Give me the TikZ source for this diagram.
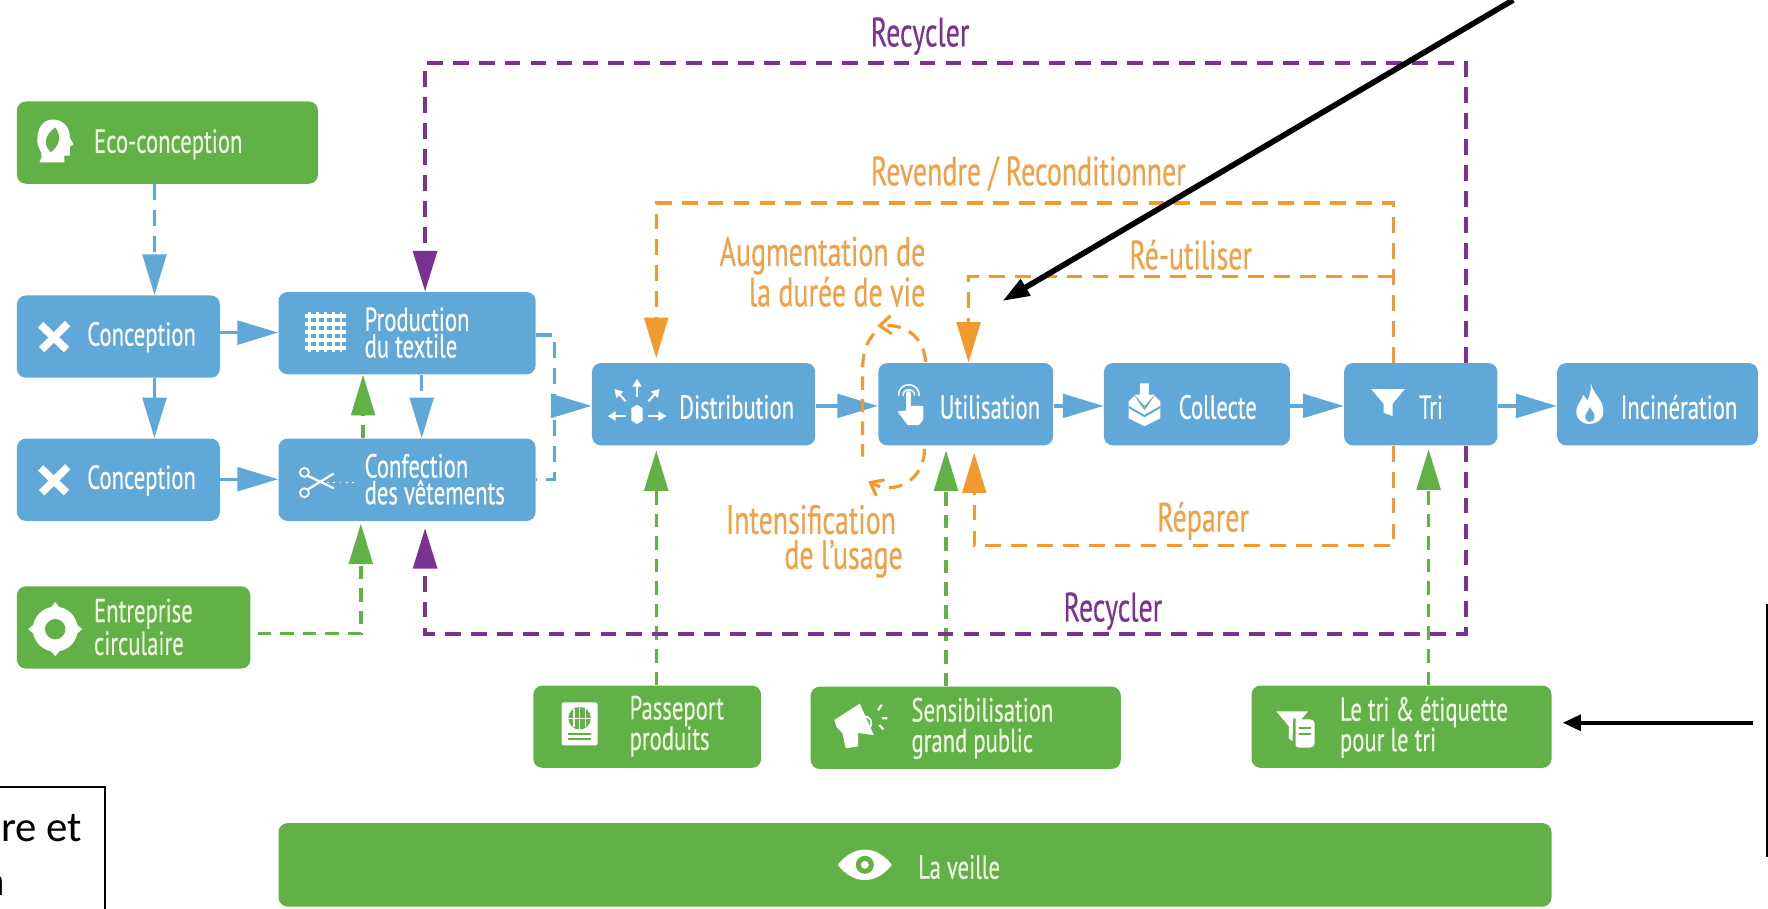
\documentclass[tikz,border=0pt]{standalone}
\usepackage{fontspec}
\setmainfont[FakeStretch=0.68,FakeBold=0.35]{PT Sans}
\newfontfamily\carl{Carlito}
\usetikzlibrary{arrows.meta,calc}
\definecolor{gr}{HTML}{62B146}
\definecolor{bl}{HTML}{5FA8D8}
\definecolor{or}{HTML}{F29A2E}
\definecolor{pu}{HTML}{7A3391}
\definecolor{gtc}{HTML}{EEF7E4}
\definecolor{ot}{HTML}{F0A046}
\tikzset{
 x=0.5pt,y=-0.5pt,
 gbox/.style={fill=gr,rounded corners=4pt,inner sep=0pt},
 bbox/.style={fill=bl,rounded corners=4pt,inner sep=0pt},
 wtx/.style={anchor=west,white,align=left,inner sep=0pt,font=\fontsize{14.8}{11.8}\selectfont},
 gtx/.style={anchor=west,gtc,align=left,inner sep=0pt,font=\fontsize{14.8}{13.5}\selectfont},
 lab/.style={inner sep=0pt,font=\fontsize{18.2}{15.5}\selectfont},
 dsh/.style={line width=1.5pt,dash pattern=on 7pt off 4.5pt},
 tipb/.style={-{Triangle[length=18pt,width=10.5pt]}},
 dbl/.style={dsh,bl,tipb},
 sbl/.style={line width=1.5pt,bl,tipb},
 dgr/.style={dsh,gr,tipb,dash pattern=on 6pt off 4pt},
 dor/.style={dsh,or},
 dpu/.style={dsh,pu,line width=1.8pt},
 blk/.style={black,line width=2.5pt,-{Triangle[length=12pt,width=8pt]}},
}
\newcommand{\bx}[6]{\node[#2,minimum width={(#5-#3)*0.5pt},minimum height={(#6-#4)*0.5pt}] (#1) at ({(#3+#5)/2},{(#4+#6)/2}) {};}
\begin{document}
\begin{tikzpicture}
\useasboundingbox (0,0) rectangle (1568,806.1);
% boxes
\bx{eco}{gbox}{15}{90}{282}{163}
\bx{con1}{bbox}{15}{262}{195}{335}
\bx{con2}{bbox}{15}{389}{195}{462}
\bx{ent}{gbox}{15}{520}{222}{593}
\bx{prod}{bbox}{247}{259}{475}{332}
\bx{conf}{bbox}{247}{389}{475}{462}
\bx{dist}{bbox}{525}{322}{723}{395}
\bx{util}{bbox}{779}{322}{934}{395}
\bx{coll}{bbox}{979}{322}{1144}{395}
\bx{tri}{bbox}{1192}{322}{1328}{395}
\bx{inc}{bbox}{1381}{322}{1559}{395}
\bx{pass}{gbox}{473}{608}{675}{681}
\bx{sens}{gbox}{719}{609}{994}{682}
\bx{etiq}{gbox}{1110}{608}{1376}{681}
\bx{veil}{gbox}{247}{730}{1376}{804}
% box texts
\node[gtx] (t1) at (83,128) {Eco-conception};
\node[wtx] (t2) at (77,299) {Conception};
\node[wtx] (t3) at (77,426) {Conception};
\node[gtx] (t4) at (83,556) {Entreprise\\[1pt]circulaire};
\node[wtx] (t5) at (323,295) {Production\\du textile};
\node[wtx] (t6) at (323,425) {Confection\\des vêtements};
\node[wtx] (t7) at (602,361) {Distribution};
\node[wtx] (t8) at (833,361) {Utilisation};
\node[wtx] (t9) at (1045,361) {Collecte};
\node[wtx] (t10) at (1258,361) {Tri};
\node[wtx] (t11) at (1437,361) {Incinération};
\node[gtx] (t12) at (558,644) {Passeport\\produits};
\node[gtx] (t13) at (808,646) {Sensibilisation\\grand public};
\node[gtx] (t14) at (1188,645) {Le tri \& étiquette\\pour le tri};
\node[gtx] (t15) at (814,769) {La veille};
% labels
\node[lab,pu] (l1) at (816,32) {Recycler};
\node[lab,ot] (l2) at (912,154) {Revendre / Reconditionner};
\node[lab,ot,align=right,anchor=east] (l3) at (821,241) {Augmentation de\\la durée de vie};
\node[lab,ot] (l4) at (1056,226) {Ré-utiliser};
\node[lab,ot,align=right,anchor=east] (l5) at (801,480) {Intensification\hspace*{3pt}\\de l’usage};
\node[lab,ot] (l6) at (1067,462) {Réparer};
\node[lab,pu] (l7) at (987,542) {Recycler};
% helper coordinates
\coordinate (xp) at (1300,0); \coordinate (xo) at (1236,0);
\coordinate (xa) at (377,0);  \coordinate (xd) at (582,0);
\coordinate (xu) at (859,0);  \coordinate (xr) at (864,0);
\coordinate (xs) at (839,0);  \coordinate (xe) at (1267,0);
\coordinate (xg) at (320,0);  \coordinate (xb) at (374,0);
\coordinate (xc) at (137,0);  \coordinate (xm) at (492,0);
\coordinate (xh) at (322,0);
\coordinate (yt) at (0,56);   \coordinate (yb) at (0,562);
\coordinate (yrv) at (0,180); \coordinate (yru) at (0,245);
\coordinate (yrp) at (0,484); \coordinate (ymid) at (0,360);
\coordinate (y1) at (0,295);  \coordinate (y2) at (0,425);
\coordinate (y3) at (0,297);
% blue connectors
\draw[dbl] (xc |- eco.south) -- (xc |- con1.north);
\draw[sbl] (xc |- con1.south) -- (xc |- con2.north);
\draw[sbl] (con1.east |- y1) -- (prod.west |- y1);
\draw[sbl] (con2.east |- y2) -- (conf.west |- y2);
\draw[dbl] (xb |- prod.south) -- (xb |- conf.north);
\draw[bl,dsh] (prod.east |- y3) -- (xm |- y3) -- (xm |- y2) -- (conf.east |- y2);
\draw[sbl] (xm |- ymid) -- (dist.west |- ymid);
\draw[sbl] (dist.east |- ymid) -- (util.west |- ymid);
\draw[sbl] (util.east |- ymid) -- (coll.west |- ymid);
\draw[sbl] (coll.east |- ymid) -- (tri.west |- ymid);
\draw[sbl] (tri.east |- ymid) -- (inc.west |- ymid);
% green connectors
\draw[dgr] (xh |- conf.north) -- (xh |- prod.south);
\draw[dgr,shorten >=1pt] (ent.east |- yb) ++(6,0) -- (xg |- yb) -- (xg |- conf.south);
\draw[dgr,shorten >=2pt] (xd |- pass.north) -- (xd |- dist.south);
\draw[dgr,shorten >=2pt] (xs |- sens.north) -- (xs |- util.south);
\draw[dgr,shorten >=1.5pt] (xe |- etiq.north) -- (xe |- tri.south);
% purple connectors
\draw[dpu,tipb] (xp |- tri.north) -- (xp |- yt) -- (xa |- yt) -- (xa |- prod.north);
\draw[dpu,tipb,shorten >=3pt] (xp |- tri.south) -- (xp |- yb) -- (xa |- yb) -- (xa |- conf.south);
% orange connectors
\draw[dor,tipb,shorten >=2pt] (xo |- tri.north) -- (xo |- yrv) -- (xd |- yrv) -- (xd |- dist.north);
\draw[dor,tipb] (xo |- yru) -- (xu |- yru) -- (xu |- util.north);
\draw[dor,tipb,shorten >=3pt] (xo |- tri.south) -- (xo |- yrp) -- (xr |- yrp) -- (xr |- util.south);
% loop
\draw[or,line width=1.4pt,dash pattern=on 6pt off 4pt,-{Straight Barb[length=5pt,width=8pt]}]
  (821,321) .. controls (819,300) and (805,287) .. (778,289);
\draw[or,line width=1.4pt,dash pattern=on 6pt off 4pt] (775,296) .. controls (768,305) and (765,312) .. (765,330) -- (765,405);
\draw[or,line width=1.4pt,dash pattern=on 6pt off 4pt,-{Straight Barb[length=5pt,width=8pt]}]
  (820,398) .. controls (820,425) and (795,440) .. (770,427);
% black arrows
\coordinate (b1s) at (1342,0); \coordinate (b1e) at (889,267);
\coordinate (b2s) at (1555,641); \coordinate (b2e) at (1386,641);
\draw[blk] (b1s) -- (b1e);
\draw[black,line width=1.6pt,-{Triangle[length=8pt,width=7pt]}] (b2s) -- (b2e);
% frames
\draw[black,line width=0.6pt] (0,698) -- (93,698) -- (93,806.1);
\draw[black,line width=0.6pt] (1567,536) -- (1567,760);
\node[anchor=east,inner sep=0pt,font=\carl\fontsize{19}{19}\selectfont] (f1) at (73,734) {re et};
\node[anchor=east,inner sep=0pt,font=\carl\fontsize{19}{19}\selectfont] (f2) at (5,785) {n};
% icons
\begin{scope}[shift={(49,125)}]
 \fill[white] (-14,19) -- (8,19) -- (8,13) -- (13,13) -- (13,5) -- (16,3) -- (13,-3) .. controls (13,-14) and (5,-19) .. (-2,-19) .. controls (-12,-19) and (-16,-10) .. (-16,0) .. controls (-16,6) and (-12,8) .. (-12,14) -- cycle;
 \fill[gr] (-4,10) .. controls (-12,2) and (-8,-6) .. (0,-12) .. controls (6,-4) and (4,4) .. (-4,10);
\end{scope}
\foreach \yy in {298,425}{
\begin{scope}[shift={(48,\yy)}]
 \draw[white,line width=3.4pt] (-12,-10) -- (11,12);
 \draw[white,line width=3.4pt] (-11,12) -- (12,-11);
\end{scope}}
\begin{scope}[shift={(288.5,294.5)}]
 \foreach \k in {-14,-7,0,7,14}{
  \draw[white,line width=1.7pt] (-18,\k) -- (18,\k);
  \draw[white,line width=1.2pt] (\k,-18) -- (\k,18);}
\end{scope}
\begin{scope}[shift={(270,428)}]
 \draw[white,line width=0.8pt] (0,-9) circle[radius=4];
 \draw[white,line width=0.8pt] (0,9) circle[radius=4];
 \draw[white,line width=1pt] (3,-6) -- (26,5);
 \draw[white,line width=1pt] (3,6) -- (26,-8);
 \draw[white,line width=0.8pt,dotted] (20,0) -- (46,0);
\end{scope}
\begin{scope}[shift={(565,360)},>={Triangle[length=3.5pt,width=4pt]},white,line width=0.9pt]
 \fill[white] (-5,2) -- (0,-1) -- (5,2) -- (5,13) -- (0,16) -- (-5,13) -- cycle;
 \draw[->] (0,-8) -- (0,-24);
 \draw[->] (-10,-4) -- (-20,-15);
 \draw[->] (10,-4) -- (20,-15);
 \draw[->] (-10,9) -- (-26,9);
 \draw[->] (10,9) -- (26,9);
\end{scope}
\begin{scope}[shift={(806,358)}]
 \draw[white,line width=2.2pt,line cap=round] (0,-9) -- (0,8);
 \fill[white] (-2,2) -- (13,2) -- (13,14) -- (9,19) -- (-1,19) -- (-10,7) -- (-2,6) -- cycle;
 \draw[white,line width=0.7pt] (-5,-7) .. controls (-6,-14) and (6,-14) .. (5,-7);
 \draw[white,line width=0.7pt] (-9,-7) .. controls (-10,-20) and (10,-20) .. (9,-7);
\end{scope}
\begin{scope}[shift={(1015,359)}]
 \fill[white] (-4,-19) -- (4,-19) -- (4,-9) -- (9,-9) -- (0,1) -- (-9,-9) -- (-4,-9) -- cycle;
 \fill[white] (-14,-3) -- (-9,-8) -- (0,5) -- (9,-8) -- (14,-3) -- (14,12) -- (0,19) -- (-14,12) -- cycle;
 \fill[bl] (-14,1) -- (0,9) -- (14,1) -- (14,3) -- (0,11) -- (-14,3) -- cycle;
\end{scope}
\begin{scope}[shift={(1231,357)}]
 \fill[white] (-15,-12) -- (15,-12) -- (4,1) -- (4,12) -- (-4,9) -- (-4,1) -- cycle;
\end{scope}
\begin{scope}[shift={(1410,358)}]
 \fill[white] (1,-18) .. controls (3,-8) and (12,-4) .. (12,7) .. controls (12,14) and (6,18) .. (0,18) .. controls (-7,18) and (-12,14) .. (-12,7) .. controls (-12,0) and (-7,-2) .. (-6,-8) .. controls (-4,-5) and (-3,-4) .. (-2,-3) .. controls (0,-8) and (1,-12) .. (1,-18) -- cycle;
 \fill[bl] (0,3) .. controls (2,7) and (5,9) .. (4,13) .. controls (3,17) and (-3,17) .. (-4,13) .. controls (-5,9) and (-1,7) .. (0,3) -- cycle;
\end{scope}
\begin{scope}[shift={(49,558)}]
 \draw[white,line width=5.4pt] (0,0) circle[radius=14.5];
 \fill[white] (-5,-18) -- (0,-24) -- (5,-18) -- cycle;
 \fill[white] (-5,18) -- (0,24) -- (5,18) -- cycle;
 \fill[white] (-18,-5) -- (-24,0) -- (-18,5) -- cycle;
 \fill[white] (18,-5) -- (24,0) -- (18,5) -- cycle;
\end{scope}
\begin{scope}[shift={(514,642)}]
 \fill[white,rounded corners=1pt] (-16,-19) rectangle (16,19);
 \fill[gr] (0,-5) circle[radius=10];
 \draw[white,line width=0.6pt] (-10,-5) -- (10,-5) (0,-15) -- (0,5) (-5,-13) -- (-5,3) (5,-13) -- (5,3);
 \draw[gr,line width=0.9pt] (-10,9) -- (10,9) (-10,13) -- (10,13);
\end{scope}
\begin{scope}[shift={(760,644)}]
 \fill[white] (-20,-5.5) -- (2.6,-20) -- (15,8) -- (1,6) -- (1,18) -- (-10,19.6) -- (-13,6) -- (-18,1) -- cycle;
 \draw[white,line width=0.8pt] (6,-8) .. controls (12,-10) and (15,-2) .. (11,2);
 \draw[white,line width=0.9pt] (18.6,-14) -- (22,-19) (22,-7) -- (27,-7) (20,-1) -- (23.5,3);
\end{scope}
\begin{scope}[shift={(1149,647)}]
 \fill[white] (-17,-16) -- (11,-16) -- (0,-3) -- (0,12) -- (-6,8) -- (-6,-3) -- cycle;
 \fill[white,rounded corners=2pt] (-1,-9) rectangle (17,16);
 \fill[gr] (-2,-10) -- (0,-10) -- (0,18) -- (-3,18) -- cycle;
 \draw[gr,line width=0.9pt] (3,-1) -- (14,-1) (3,4) -- (14,4);
\end{scope}
\begin{scope}[shift={(767,767)}]
 \fill[white] (-24,0) .. controls (-10,-18) and (10,-18) .. (24,0) .. controls (10,18) and (-10,18) .. (-24,0) -- cycle;
 \fill[gr] (0,0) circle[radius=8];
 \fill[white] (0,0) circle[radius=3.5];
\end{scope}
\end{tikzpicture}
\end{document}
